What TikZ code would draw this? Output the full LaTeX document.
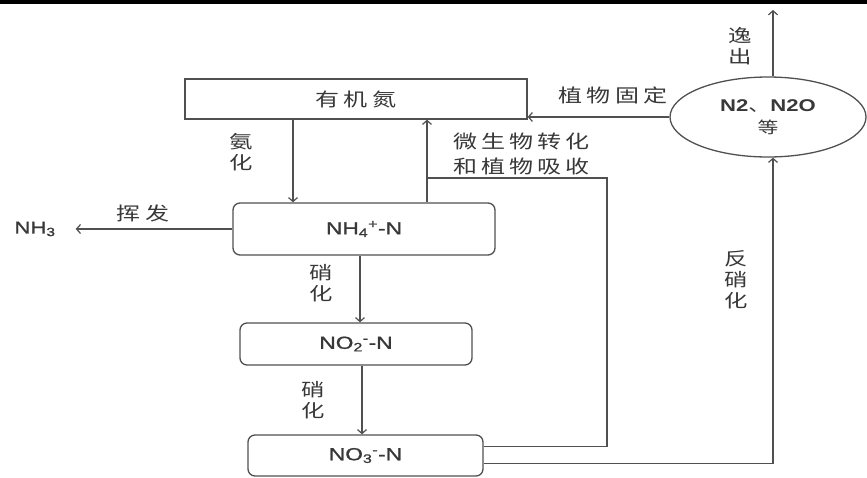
\documentclass[tikz,border=0pt]{standalone}
\usepackage{fontspec}
\usetikzlibrary{arrows.meta,shapes.geometric}
\newfontfamily\cjk[FakeStretch=1.3,LetterSpace=22]{Noto Sans CJK SC}
\newfontfamily\cjkv[FakeStretch=1.3]{Noto Sans CJK SC}
\newfontfamily\lat[FakeStretch=1.3,FakeBold=1.2]{Liberation Sans}
\newfontfamily\latbold[FakeStretch=1.3]{Liberation Sans Bold}
\definecolor{lncol}{HTML}{505050}
\definecolor{txcol}{HTML}{383838}
\begin{document}
\begin{tikzpicture}[x=1pt,y=-1pt,
  box/.style={draw=lncol,line width=1.3pt,inner sep=0pt,text=txcol,font=\lat\fontsize{17.5}{20}\selectfont},
  rbox/.style={box,rounded corners=7pt},
  arr/.style={draw=lncol,line width=1.2pt,-{Straight Barb[length=4pt,width=9pt]}},
  conn/.style={draw=lncol,line width=1.2pt},
  lab/.style={text=txcol,font=\cjk\fontsize{18.5}{25}\selectfont,inner sep=0pt,align=left},
  vlab/.style={text=txcol,font=\cjkv\fontsize{18}{21}\selectfont,inner sep=0pt,align=center},
  latlab/.style={text=txcol,font=\lat\fontsize{17}{20}\selectfont,inner sep=0pt}
]
\useasboundingbox (0,0) rectangle (867,477);
\fill[black] (0,0) rectangle (867,4);

% nodes
\node[box,minimum width=342pt,minimum height=40pt,font=\cjk\fontsize{18.5}{22}\selectfont] (org) at (356,99) {有机氮};
\node[rbox,minimum width=262pt,minimum height=52pt] (nh4) at (364,229) {NH\textsubscript{4}\textsuperscript{+}-N};
\node[rbox,minimum width=232pt,minimum height=42pt] (no2) at (356,344) {NO\textsubscript{2}\textsuperscript{-}-N};
\node[rbox,minimum width=235pt,minimum height=41pt] (no3) at (365.5,455.5) {NO\textsubscript{3}\textsuperscript{-}-N};
\node[ellipse,draw=lncol,line width=1.3pt,minimum width=196pt,minimum height=80pt,inner sep=0pt,text=txcol,align=center,font=\fontsize{17}{22}\selectfont] (ell) at (768,117)
  {{\latbold N2}{\cjkv 、}{\latbold N2O}\\{\cjkv\fontsize{16}{20}\selectfont 等}};
\node[latlab] (nh3) at (35,229) {NH\textsubscript{3}};

% helper coordinates
\coordinate (xa) at (293,0);
\coordinate (xb) at (427,0);
\coordinate (jn) at (427,178);
\coordinate (cr) at (607,178);
\coordinate (xd) at (360,0);
\coordinate (xe) at (362,0);
\coordinate (top) at (773,10);

% connectors
\draw[arr] (org.south -| xa) -- (nh4.north -| xa);
\draw[arr] (nh4.north -| xb) -- (org.south -| xb);
\draw[conn] ([yshift=9pt]no3.east) -| (cr) -- (jn);
\draw[arr] ([yshift=-8pt]no3.east) -| (ell.south -| top);
\draw[arr] (ell.north -| top) -- (top);
\draw[arr] (ell.west) -- (ell.west -| org.east);
\draw[arr] (nh4.west) -- ([xshift=20pt]nh3.east);
\draw[arr] (nh4.south -| xd) -- (no2.north -| xd);
\draw[arr] (no2.south -| xe) -- (no3.north -| xe);

% labels
\node[vlab] (l1) at (241,152) {氨\\化};
\node[lab,anchor=west] (l2) at (453,154) {微生物转化\\和植物吸收};
\node[lab] (l3) at (613,95) {植物固定};
\node[vlab] (l4) at (740,46) {逸\\出};
\node[lab] (l5) at (143,213) {挥发};
\node[vlab] (l6) at (321,283) {硝\\化};
\node[vlab] (l7) at (313,400) {硝\\化};
\node[vlab] (l8) at (736,280) {反\\硝\\化};
\end{tikzpicture}
\end{document}
